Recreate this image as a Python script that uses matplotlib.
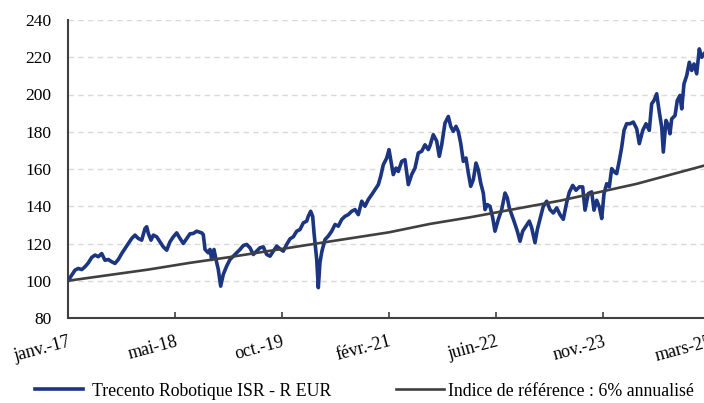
import matplotlib
matplotlib.use("Agg")
import matplotlib.pyplot as plt

plt.rcParams.update({"font.family": ["Liberation Serif", "DejaVu Serif"],
                     "font.size": 12})

# Trecento Robotique ISR - R EUR (x in months since janv.-17)
fund_months = [
    0, 0.55, 1.05, 1.54, 2.05, 2.54, 3.04, 3.54, 4.04, 4.53, 5.04, 5.53, 6.03, 6.53,
    7.03, 7.52, 8.03, 8.52, 9.02, 9.53, 10.02, 10.51, 11.02, 11.51, 11.77, 12.01,
    12.41, 12.76, 13.26, 13.76, 14.25, 14.76, 15.25, 15.75, 16.25, 16.75, 17.24,
    17.75, 18.24, 18.74, 19.24, 19.99, 20.23, 20.49, 20.98, 21.23, 21.49, 21.83,
    22.13, 22.47, 22.83, 23.22, 23.73, 24.22, 24.72, 25.23, 25.72, 26.21, 26.72,
    27.21, 27.71, 28.22, 28.71, 29.20, 29.71, 30.21, 30.70, 31.21, 31.70, 32.19,
    32.70, 33.20, 33.69, 34.20, 34.69, 35.19, 35.69, 35.93, 36.29, 36.59, 36.79,
    37.19, 37.43, 37.68, 37.98, 38.43, 38.92, 39.43, 39.93, 40.42, 40.93, 41.42,
    41.91, 42.42, 42.92, 43.41, 43.92, 44.41, 44.90, 45.41, 45.91, 46.40, 46.76,
    47.15, 47.66, 48.00, 48.30, 48.64, 49.05, 49.39, 49.90, 50.39, 50.89, 51.39,
    51.89, 52.38, 52.89, 53.38, 53.88, 54.13, 54.62, 55.13, 55.52, 55.88, 56.37,
    56.87, 57.23, 57.61, 58.02, 58.36, 58.72, 59.11, 59.51, 59.86, 60.22, 60.61,
    61.01, 61.35, 61.71, 62.10, 62.36, 62.70, 63.10, 63.51, 63.85, 64.34, 64.85,
    65.35, 65.69, 65.99, 66.35, 66.69, 67.19, 67.59, 67.99, 68.49, 68.98, 69.34,
    69.83, 70.18, 70.68, 71.07, 71.58, 72.07, 72.57, 73.08, 73.57, 74.06, 74.57,
    74.96, 75.47, 75.96, 76.46, 76.96, 77.31, 77.80, 78.31, 78.65, 79.06, 79.45,
    79.81, 80.15, 80.55, 80.94, 81.30, 81.69, 82.05, 82.44, 82.80, 83.14, 83.54,
    84.04, 84.53, 85.04, 85.43, 85.94, 86.43, 86.92, 87.28, 87.63, 88.03, 88.42,
    88.78, 89.02, 89.42, 89.76, 90.02, 90.27, 90.77, 91.11, 91.51, 91.77, 92.11,
    92.52, 92.91, 93.26, 93.61, 94.01, 94.40, 94.76, 95.10]
fund_values = [
    100, 103, 105.7, 106.6, 106, 107.5, 109.6, 112.5, 113.8, 112.9, 114.6, 111,
    111.4, 110.2, 109.3, 111.4, 114.6, 117.3, 120, 122.7, 124.5, 122.7, 121.8, 128,
    129, 125.4, 121.8, 124.5, 123.6, 120.9, 118.2, 116.4, 120.9, 123.6, 125.7,
    122.7, 120, 122.7, 125.2, 125.4, 126.6, 125.7, 124.8, 116.8, 115, 116.8, 111.4,
    116.8, 111.4, 106.1, 97.1, 103.4, 107.9, 111.4, 113.2, 115, 116.8, 118.9,
    119.5, 117.7, 114.1, 115.9, 117.7, 118.2, 114.1, 113.2, 115.9, 118.6, 117.1,
    115.9, 119.5, 122.5, 123.6, 126.6, 127.5, 131.1, 132, 134.6, 137.3, 134.5,
    125.7, 111.4, 96.3, 110, 116, 122.1, 124, 126.6, 130.2, 129.3, 132.9, 134.6,
    135.5, 137.3, 138.2, 135.5, 142.7, 140, 143.6, 146.2, 148.9, 151.6, 156.1,
    162.3, 165.9, 170.4, 164.1, 157, 160.5, 158.7, 164.1, 165, 151.6, 157, 160.5,
    168.6, 169.5, 173, 170.4, 172.5, 178.4, 175, 166.8, 173, 184.6, 188.2, 182.9,
    180.2, 182.9, 180.2, 173.9, 164.1, 165.9, 157.9, 150.7, 154.3, 163.2, 159.6,
    152.5, 147.1, 138.2, 140.9, 140, 133.8, 126.6, 132.9, 138.2, 147.1, 144.5,
    139.1, 135.5, 132, 126.6, 121.2, 126.6, 129.3, 132, 128.4, 120.4, 127.5,
    134.6, 140, 142.7, 138.2, 136.4, 139.1, 135.5, 133, 142, 147.5, 151.2, 148.6,
    150.4, 150.4, 137.9, 146.8, 147.7, 137.9, 143.2, 139.6, 133.4, 146.8, 152.1,
    150.4, 160.2, 158.4, 157.5, 164.6, 171.8, 180.7, 184.3, 184.3, 185.2, 181.6,
    173.6, 180.7, 184.3, 180.7, 195, 196.8, 200.4, 190.5, 182.5, 169.1, 186.1,
    183.4, 178.9, 186.9, 188.7, 196.8, 199.5, 192.3, 205.7, 210.2, 217.3, 212.9,
    216.4, 211.1, 224.5, 220, 221.8]

# Indice de référence : 6% annualisé
bench_months = [0, 12, 18.2, 24, 36.3, 48, 54.1, 60, 73.6, 85, 95.1]
bench_values = [100, 106, 109.6, 112.6, 119.5, 126, 130.5, 134, 143, 152, 161.8]

tick_months = [0, 16, 32, 48, 64, 80, 96]
tick_labels = ["janv.-17", "mai-18", "oct.-19", "févr.-21", "juin-22", "nov.-23", "mars-25"]

fig = plt.figure(figsize=(7.04, 4.03), dpi=100)
ax = fig.add_axes([68 / 704, 1 - 318 / 403, 642 / 704, 298 / 403])

l1, = ax.plot(fund_months, fund_values, color="#1b3580", linewidth=2.6,
              solid_joinstyle="round", label="Trecento Robotique ISR - R EUR", zorder=3)
l2, = ax.plot(bench_months, bench_values, color="#404040", linewidth=1.9,
              label="Indice de référence : 6% annualisé", zorder=4)

ax.set_xlim(0, 96)
ax.set_ylim(80, 240)
ax.set_yticks(range(80, 241, 20))
ax.set_xticks(tick_months)
ax.set_xticklabels(tick_labels, rotation=15, ha="right", va="top",
                   rotation_mode="anchor")

for y in range(100, 241, 20):
    ax.axhline(y, color="#d9d9d9", linewidth=1, linestyle=(0, (4, 3)), zorder=1)

for side in ("top", "right"):
    ax.spines[side].set_visible(False)
for side in ("left", "bottom"):
    ax.spines[side].set_color("#404040")
    ax.spines[side].set_linewidth(1.5)

ax.tick_params(axis="y", length=0, pad=12, labelsize=12.5)
ax.tick_params(axis="x", direction="in", length=4, width=1.2, color="#404040",
               pad=11, labelsize=13)

y_leg = 1 - 391 / 403
fig.legend(handles=[l1], loc="center left", bbox_to_anchor=(35 / 704, y_leg),
           frameon=False, borderaxespad=0, borderpad=0, handlelength=2.7,
           handletextpad=0.5, fontsize=12.8)
fig.legend(handles=[l2], loc="center left", bbox_to_anchor=(396 / 704, y_leg),
           frameon=False, borderaxespad=0, borderpad=0, handlelength=2.7,
           handletextpad=0.2, fontsize=12.8)

fig.savefig("out.png", dpi=100)
